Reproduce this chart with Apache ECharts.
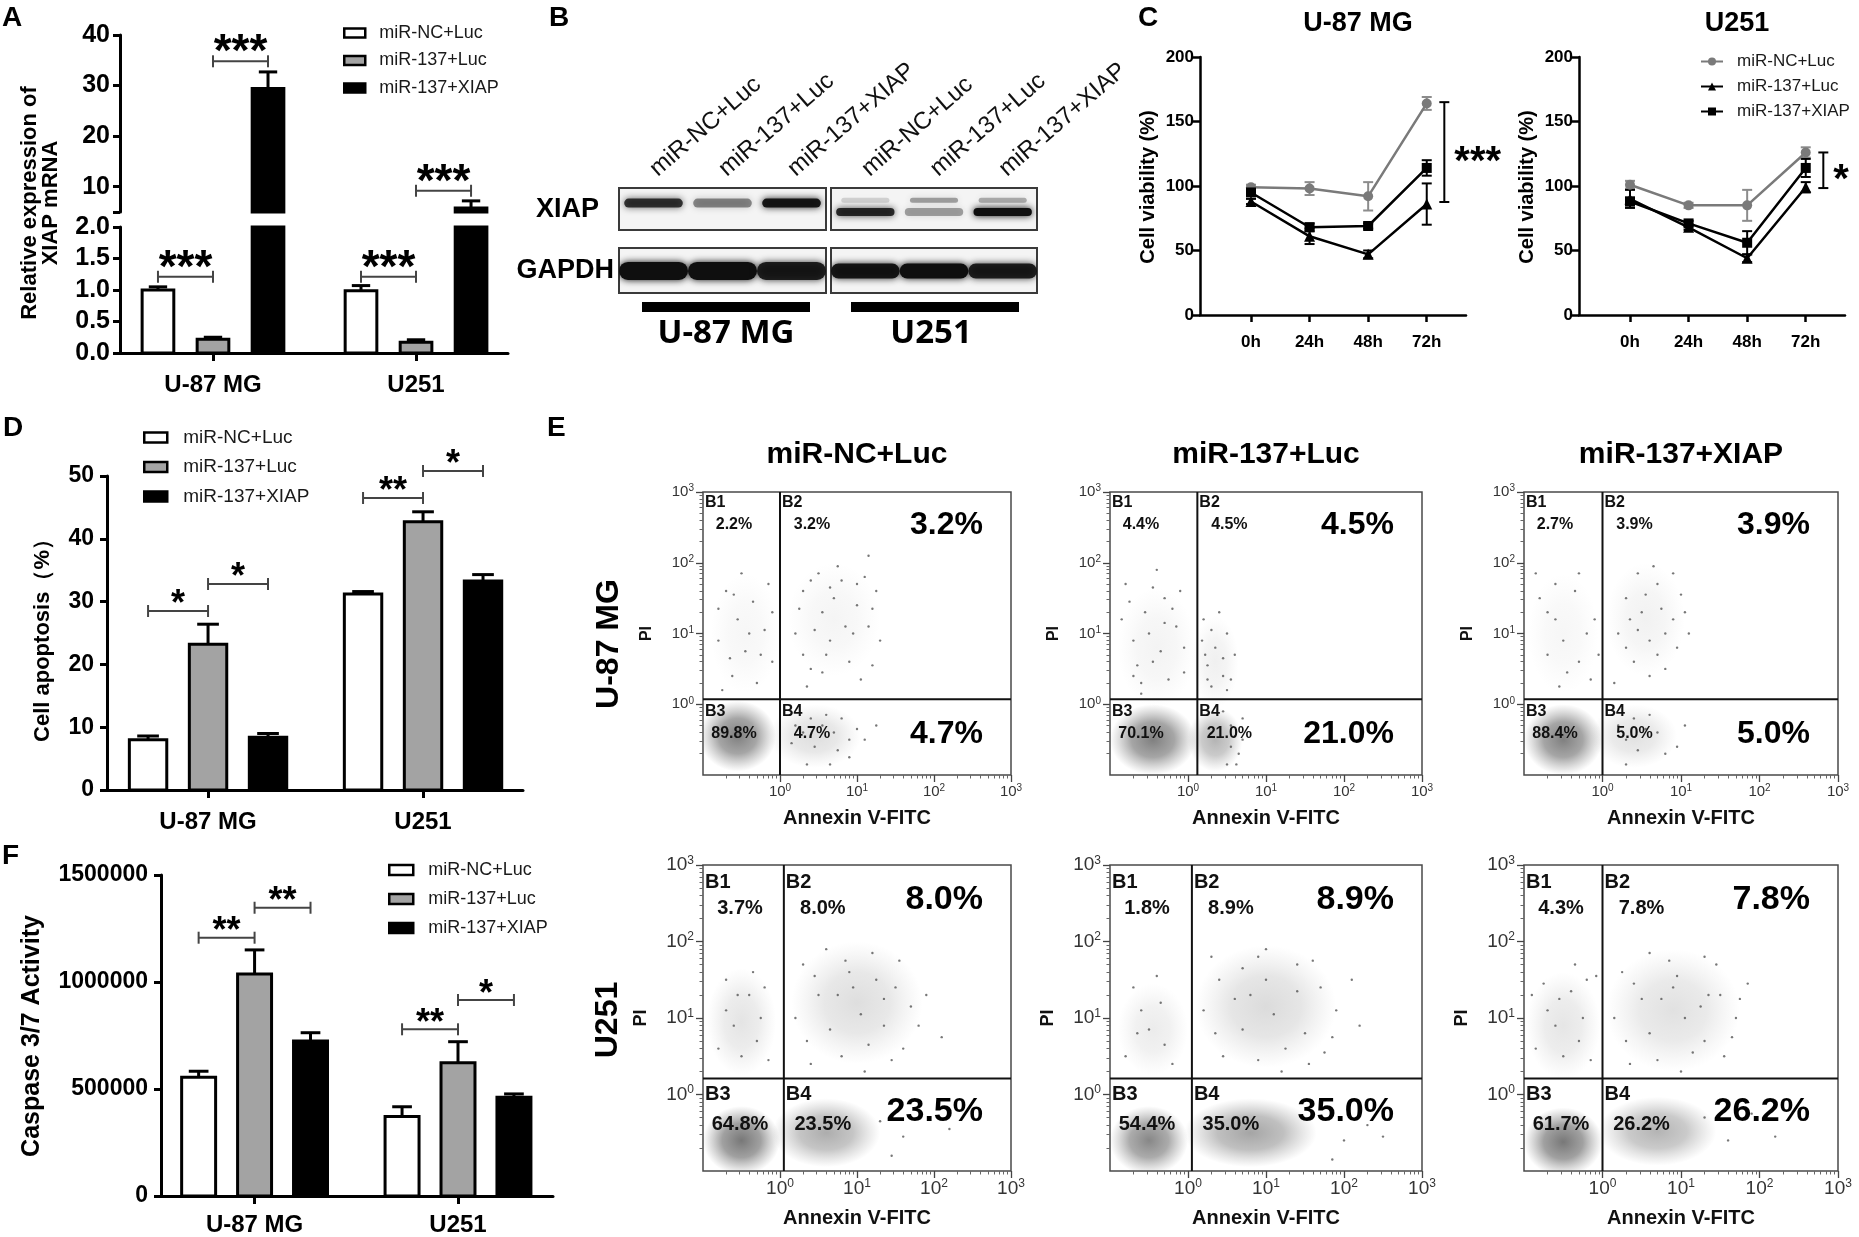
<!DOCTYPE html>
<html>
<head>
<meta charset="utf-8">
<title>miR-137 / XIAP</title>
<script src="https://cdn.jsdelivr.net/npm/echarts@6.0.0/dist/echarts.min.js"></script>
<style>
html, body { margin: 0; padding: 0; background: #fff; }
#main { width: 1859px; height: 1237px; }
</style>
</head>
<body>
<div id="main"></div>
<script>
// ---------- data ----------
var cells = ['U-87 MG', 'U251'];
var groups = ['miR-NC+Luc', 'miR-137+Luc', 'miR-137+XIAP'];
var times = ['0h', '24h', '48h', '72h'];

// A: relative XIAP mRNA
var aNc = [1.00, 0.99], aNcErr = [0.05, 0.08];
var aLuc = [0.22, 0.17], aLucErr = [0.03, 0.04];
var aXiap = [29.4, 5.8], aXiapErr = [3.3, 1.4];
// [cell, from group, to group, y, label]
var aSigTop = [[0, 1, 2, 34.8, '***'], [1, 1, 2, 9.2, '***']];
var aSigLow = [[0, 0, 1, 1.21, '***'], [1, 0, 1, 1.21, '***']];

// B: western blot band strength per lane
var bXiapU87 = [0.8, 0.45, 0.95];
var bXiapU251 = [0.85, 0.35, 1.0];
var bXiapU251Upper = [0.15, 0.35, 0.3];
var bGapdhU87 = [1.0, 1.0, 0.9];
var bGapdhU251 = [0.95, 1.0, 0.9];

// C: cell viability (%)
var cU87Nc = [99, 98, 92, 164], cU87NcErr = [2, 5, 11, 5];
var cU87Luc = [88, 61, 47, 86], cU87LucErr = [2, 6, 3, 16];
var cU87Xiap = [95, 68, 69, 114], cU87XiapErr = [2, 3, 2, 6];
var cU251Nc = [101, 85, 85, 126], cU251NcErr = [3, 2, 12, 4];
var cU251Luc = [90, 68, 44, 99], cU251LucErr = [7, 2, 3, 4];
var cU251Xiap = [88, 71, 56, 114], cU251XiapErr = [3, 2, 9, 7];
var cSigU87 = [87.6, 165], cSigU251 = [98.4, 126];

// D: cell apoptosis (%)
var dNc = [8.0, 31.2], dNcErr = [0.6, 0.4];
var dLuc = [23.2, 42.7], dLucErr = [3.2, 1.6];
var dXiap = [8.4, 33.3], dXiapErr = [0.6, 1.0];
var dSig = [[0, 0, 1, 28.5, '*'], [0, 1, 2, 32.8, '*'], [1, 0, 1, 46.5, '**'], [1, 1, 2, 50.8, '*']];

// F: caspase 3/7 activity
var fNc = [555000, 371000], fNcErr = [28000, 46000];
var fLuc = [1037000, 623000], fLucErr = [113000, 98000];
var fXiap = [724000, 461000], fXiapErr = [39000, 16000];
var fSig = [[0, 0, 1, 1207000, '**'], [0, 1, 2, 1347000, '**'], [1, 0, 1, 779000, '**'], [1, 1, 2, 916000, '*']];

// E: flow cytometry, log10 units. gate [x, y], quadrant % [B1, B2, B3, B4]
// clouds: [cx, cy, rx, ry, density]
var e1Gate = [0.0, 0.07], e1Pct = [2.2, 3.2, 89.8, 4.7];
var e1Clouds = [[-0.55, -0.45, 0.5, 0.5, 0.85], [0.45, -0.45, 0.6, 0.45, 0.22], [-0.45, 1.0, 0.45, 0.85, 0.06], [0.7, 1.2, 0.6, 0.8, 0.07]];
var e1Dots = [[-0.7, 1.6], [-0.55, 1.2], [-0.35, 1.45], [-0.8, 0.9], [-0.45, 0.75], [-0.2, 1.05], [-0.62, 0.4], [-0.3, 0.3], [-0.15, 1.7], [-0.75, 0.2], [-0.5, 1.85], [-0.1, 0.6],
  [-0.6, 1.55], [-0.4, 1.0], [-0.25, 0.7], [-0.65, 0.65], [-0.1, 1.3], [-0.8, 1.35],
  [0.3, 1.6], [0.55, 1.3], [0.8, 1.75], [1.0, 1.4], [0.65, 0.9], [1.15, 1.1], [0.4, 0.5], [0.9, 0.6], [1.25, 1.6], [0.2, 1.0], [0.75, 1.95], [1.05, 0.35], [0.5, 1.85], [1.3, 0.9], [0.35, 0.25], [1.1, 1.8], [0.6, 0.7],
  [0.25, 1.35], [0.45, 1.05], [0.7, 1.5], [0.95, 1.0], [1.2, 1.35], [0.55, 0.45], [0.85, 1.1], [1.0, 1.7], [0.3, 0.7], [0.65, 1.65], [1.2, 0.55], [0.4, 1.75],
  [0.2, -0.3], [0.45, -0.6], [0.7, -0.4], [0.9, -0.75], [1.1, -0.5], [0.35, -0.85], [0.6, -0.15], [1.25, -0.3], [0.15, -0.55], [0.8, -0.2], [1.15, 2.1],
  [0.3, -0.4], [0.55, -0.3], [0.75, -0.65], [1.0, -0.35], [0.4, -0.2], [0.65, -0.85], [0.9, -0.5]];
var e2Gate = [0.12, 0.07], e2Pct = [4.4, 4.5, 70.1, 21.0];
var e2Clouds = [[-0.45, -0.5, 0.55, 0.5, 0.85], [0.35, -0.5, 0.35, 0.45, 0.5], [-0.4, 0.8, 0.5, 0.85, 0.08], [0.35, 0.6, 0.3, 0.65, 0.1]];
var e2Dots = [[-0.8, 1.7], [-0.55, 1.3], [-0.3, 1.5], [-0.7, 0.9], [-0.45, 0.6], [-0.15, 1.1], [-0.6, 0.3], [-0.25, 0.35], [-0.05, 0.8], [-0.85, 1.2], [-0.4, 1.9], [-0.1, 1.6], [-0.65, 0.55],
  [-0.75, 1.45], [-0.5, 1.0], [-0.35, 0.75], [-0.2, 1.35], [-0.7, 0.4], [-0.45, 1.65], [-0.05, 0.45], [-0.3, 1.15], [-0.6, 0.15],
  [0.2, 1.2], [0.35, 0.8], [0.45, 0.4], [0.25, 0.55], [0.5, 1.0], [0.3, 0.25], [0.6, 0.7], [0.18, 0.9], [0.4, 1.3], [0.55, 0.35],
  [0.25, 0.35], [0.45, 0.65], [0.3, 1.05], [0.5, 0.2], [0.22, 0.7],
  [0.55, -0.3], [0.65, -0.7], [0.5, -0.85], [0.7, -0.5], [0.45, -0.1], [0.6, -0.45], [0.7, -0.2], [0.55, -0.6], [0.62, -0.85]];
var e3Gate = [0.0, 0.07], e3Pct = [2.7, 3.9, 88.4, 5.0];
var e3Clouds = [[-0.5, -0.5, 0.5, 0.5, 0.85], [0.4, -0.45, 0.55, 0.45, 0.2], [-0.5, 1.0, 0.45, 0.85, 0.06], [0.55, 1.2, 0.5, 0.8, 0.09]];
var e3Dots = [[-0.8, 1.5], [-0.6, 1.2], [-0.35, 1.6], [-0.7, 0.7], [-0.45, 0.45], [-0.2, 1.0], [-0.55, 0.25], [-0.15, 0.35], [-0.85, 1.85], [-0.3, 1.85], [-0.05, 0.7],
  [-0.7, 1.3], [-0.5, 0.9], [-0.3, 0.6], [-0.1, 1.2], [-0.6, 1.7],
  [0.3, 1.5], [0.5, 1.3], [0.7, 1.7], [0.9, 1.2], [0.6, 0.9], [0.4, 0.6], [0.8, 0.5], [0.2, 1.0], [1.0, 1.55], [0.65, 1.95], [0.45, 1.85], [0.95, 0.8], [0.15, 0.3], [0.75, 1.35],
  [0.35, 1.2], [0.55, 1.55], [0.8, 1.0], [1.05, 1.3], [0.3, 0.8], [0.6, 0.4], [0.9, 1.85], [0.45, 1.05], [0.7, 0.7], [1.1, 1.0],
  [0.2, -0.3], [0.45, -0.65], [0.7, -0.4], [0.95, -0.6], [0.3, -0.85], [0.6, -0.15], [1.05, -0.3], [0.3, -0.5], [0.55, -0.35], [0.8, -0.7], [0.4, -0.2]];
var e4Gate = [0.05, 0.21], e4Pct = [3.7, 8.0, 64.8, 23.5];
var e4Clouds = [[-0.5, -0.6, 0.5, 0.45, 0.9], [0.6, -0.5, 0.7, 0.45, 0.55], [1.0, 1.2, 0.85, 0.8, 0.22], [-0.5, 0.95, 0.45, 0.7, 0.18]];
var e4Dots = [[0.3, 1.7], [0.6, 1.9], [0.9, 1.6], [1.2, 1.85], [1.5, 1.4], [1.7, 1.15], [1.35, 0.9], [0.8, 0.5], [0.4, 0.4], [1.9, 1.3], [1.1, 0.3], [0.2, 1.0], [1.6, 0.6], [0.5, 1.3], [2.1, 0.75], [1.25, 1.5],
  [0.45, 1.55], [0.75, 1.3], [1.05, 1.05], [1.35, 1.25], [0.65, 0.85], [1.55, 1.75], [0.95, 1.4], [1.8, 0.9], [0.35, 0.7], [1.15, 0.65], [1.45, 0.45], [0.85, 1.75],
  [-0.7, 1.5], [-0.35, 1.6], [-0.8, 0.6], [-0.15, 0.45], [-0.55, 1.3], [-0.25, 1.0], [-0.6, 0.9], [-0.4, 1.3], [-0.7, 1.1], [-0.3, 0.7], [-0.5, 0.5], [-0.2, 1.4],
  [1.3, -0.35], [1.6, -0.55], [1.8, -0.2], [2.2, -0.45], [1.45, -0.8]];
var e5Gate = [0.05, 0.21], e5Pct = [1.8, 8.9, 54.4, 35.0];
var e5Clouds = [[-0.5, -0.6, 0.5, 0.45, 0.8], [0.8, -0.5, 0.85, 0.45, 0.6], [1.0, 1.15, 0.9, 0.8, 0.24], [-0.45, 0.85, 0.45, 0.6, 0.13]];
var e5Dots = [[0.3, 1.8], [0.7, 1.65], [1.0, 1.9], [1.4, 1.7], [1.7, 1.4], [1.9, 1.1], [1.5, 0.8], [0.9, 0.45], [0.45, 0.5], [2.1, 1.5], [1.2, 0.3], [0.2, 1.1], [1.75, 0.55], [0.6, 1.25], [2.2, 0.9],
  [0.4, 1.5], [0.8, 1.3], [1.1, 1.05], [1.4, 1.35], [0.7, 0.85], [1.6, 1.75], [1.0, 1.5], [1.85, 0.75], [0.35, 0.8], [1.25, 0.6], [1.55, 0.4], [0.9, 1.8],
  [-0.7, 1.4], [-0.4, 1.55], [-0.8, 0.5], [-0.2, 0.4], [-0.6, 1.1], [-0.5, 0.85], [-0.35, 1.2], [-0.65, 0.8], [-0.3, 0.65],
  [1.7, -0.3], [2.0, -0.6], [2.3, -0.4], [1.85, -0.85], [2.5, -0.55]];
var e6Gate = [0.0, 0.21], e6Pct = [4.3, 7.8, 61.7, 26.2];
var e6Clouds = [[-0.5, -0.62, 0.5, 0.45, 0.9], [0.7, -0.48, 0.75, 0.45, 0.5], [0.9, 1.1, 0.85, 0.8, 0.2], [-0.5, 0.9, 0.47, 0.7, 0.17]];
var e6Dots = [[0.25, 1.6], [0.6, 1.85], [0.95, 1.55], [1.3, 1.8], [1.5, 1.3], [1.7, 1.0], [1.3, 0.7], [0.7, 0.45], [0.35, 0.4], [1.85, 1.45], [1.0, 0.3], [0.15, 1.0], [1.55, 0.5], [0.5, 1.25], [1.25, 1.15],
  [0.4, 1.45], [0.75, 1.25], [1.05, 1.0], [1.35, 1.3], [0.6, 0.8], [1.45, 1.7], [0.9, 1.4], [1.65, 0.75], [0.3, 0.7], [1.15, 0.55], [0.85, 1.75], [1.75, 1.25],
  [-0.75, 1.45], [-0.35, 1.7], [-0.85, 0.6], [-0.15, 0.45], [-0.55, 1.25], [-0.25, 1.0], [-0.9, 1.3], [-0.08, 1.55],
  [-0.6, 0.9], [-0.4, 1.35], [-0.7, 1.1], [-0.3, 0.7], [-0.5, 0.5], [-0.2, 1.5],
  [1.3, -0.3], [1.6, -0.6], [1.9, -0.25], [2.2, -0.55]];

// ---------- helpers ----------
var FONT = '"Liberation Sans", Arial, Helvetica, sans-serif';
var fills = ['#ffffff', '#a3a3a3', '#000000'];
var grids = [], xAxes = [], yAxes = [], series = [], legends = [], graphics = [];

function pushAxis(arr, o) { arr.push(o); return arr.length - 1; }
function addGrid(r, extra) {
  var g = {left: r[0], top: r[1], width: r[2], height: r[3], show: false, containLabel: false, outerBoundsMode: 'none'};
  if (extra) for (var k in extra) g[k] = extra[k];
  grids.push(g);
  return grids.length - 1;
}
function ts(text, size, weight, align, valign, color, family) {
  align = align || 'center'; valign = valign || 'middle';
  return {text: text, fontSize: size, fontWeight: weight || 'bold', fontFamily: family || FONT,
    fill: color || '#000', textFill: color || '#000',
    align: align, verticalAlign: valign, textAlign: align, textVerticalAlign: valign};
}
function txt(x, y, s, size, opt) {
  opt = opt || {};
  graphics.push({type: 'text', x: x, y: y, rotation: opt.rot || 0, silent: true, z: 100,
    style: ts(s, size, opt.weight, opt.align, opt.valign, opt.color, opt.family)});
}

// ---------- bar panels (A, D, F) ----------
function catX(g, range, show, size, margin) {
  return pushAxis(xAxes, {
    gridIndex: g, type: 'value', min: range[0], max: range[1], show: show,
    axisLine: {show: true, onZero: false, lineStyle: {color: '#000', width: 3}},
    axisTick: {show: true, customValues: [0, 1], length: 8, lineStyle: {color: '#000', width: 3}},
    axisLabel: {show: true, customValues: [0, 1], formatter: function (v) { return cells[Math.round(v)]; },
      fontSize: size, fontWeight: 'bold', color: '#000', fontFamily: FONT, margin: margin},
    splitLine: {show: false}
  });
}
function valY(g, min, max, o) {
  var ax = {gridIndex: g, type: 'value', min: min, max: max,
    axisLine: {show: true, onZero: false, lineStyle: {color: '#000', width: 3}},
    axisTick: {show: true, length: 7, lineStyle: {color: '#000', width: 3}},
    axisLabel: {fontSize: o.size, fontWeight: 'bold', color: '#000', fontFamily: FONT, margin: o.margin},
    splitLine: {show: false}};
  if (o.interval) ax.interval = o.interval;
  if (o.ticks) ax.axisTick.customValues = o.ticks;
  if (o.labels) ax.axisLabel.customValues = o.labels;
  if (o.fmt) ax.axisLabel.formatter = o.fmt;
  return pushAxis(yAxes, ax);
}
function addBars(prefix, xi, yi, means, errs, bw, off, ymin, ymax) {
  means.forEach(function (m, s) {
    series.push({
      type: 'custom', name: prefix + groups[s], xAxisIndex: xi, yAxisIndex: yi, silent: true, z: 2,
      itemStyle: {color: fills[s]}, encode: {x: 0, y: 1},
      data: m.map(function (v, c) { return [c, v, errs[s][c]]; }),
      renderItem: function (params, api) {
        var x = api.value(0) + (s - 1) * off, v = api.value(1), e = api.value(2);
        if (v <= ymin) return null;
        var top = Math.min(v, ymax);
        var p1 = api.coord([x - bw / 2, top]), p2 = api.coord([x + bw / 2, ymin]);
        var kids = [{type: 'rect', shape: {x: p1[0], y: p1[1], width: p2[0] - p1[0], height: p2[1] - p1[1]},
          style: {fill: fills[s], stroke: '#000', lineWidth: 3}}];
        if (v + e <= ymax) {
          var t = api.coord([x, v + e]), b = api.coord([x, v]), cw = (p2[0] - p1[0]) * 0.58;
          kids.push({type: 'line', shape: {x1: t[0], y1: t[1], x2: b[0], y2: b[1]}, style: {stroke: '#000', lineWidth: 3}});
          kids.push({type: 'line', shape: {x1: t[0] - cw / 2, y1: t[1], x2: t[0] + cw / 2, y2: t[1]}, style: {stroke: '#000', lineWidth: 3}});
        }
        return {type: 'group', children: kids};
      }
    });
  });
}
function addSig(xi, yi, list, off, fs, lift) {
  series.push({
    type: 'custom', xAxisIndex: xi, yAxisIndex: yi, silent: true, z: 5, encode: {x: [0, 1], y: 2},
    data: list.map(function (s) { return [s[0] + (s[1] - 1) * off, s[0] + (s[2] - 1) * off, s[3]]; }),
    renderItem: function (params, api) {
      var lab = list[params.dataIndex][4];
      var p1 = api.coord([api.value(0), api.value(2)]), p2 = api.coord([api.value(1), api.value(2)]);
      var y = p1[1];
      return {type: 'group', children: [
        {type: 'line', shape: {x1: p1[0], y1: y, x2: p2[0], y2: y}, style: {stroke: '#444', lineWidth: 2}},
        {type: 'line', shape: {x1: p1[0], y1: y - 6, x2: p1[0], y2: y + 6}, style: {stroke: '#444', lineWidth: 2}},
        {type: 'line', shape: {x1: p2[0], y1: y - 6, x2: p2[0], y2: y + 6}, style: {stroke: '#444', lineWidth: 2}},
        {type: 'text', x: (p1[0] + p2[0]) / 2, y: y - lift + 0.27 * fs, style: ts(lab, fs, 'bold')}
      ]};
    }
  });
}
function barLegend(prefix, left, top, iw, ih, gap, fs, pad) {
  legends.push({
    show: true, orient: 'vertical', left: left, top: top, padding: 0, itemWidth: iw, itemHeight: ih, itemGap: gap,
    selectedMode: false,
    data: groups.map(function (g, i) {
      return {name: prefix + g, icon: 'rect', itemStyle: {color: fills[i], borderColor: '#000', borderWidth: 2.5}};
    }),
    formatter: function (n) { return n.split('|')[1]; },
    textStyle: {fontSize: fs, fontFamily: FONT, color: '#1a1a1a', padding: [0, 0, 0, pad], lineHeight: fs}
  });
}

// Panel A (broken y axis: two grids)
var aX = [-0.458, 1.453], aBw = 0.156, aOff = 0.271;
var gAu = addGrid([120, 35, 388, 177]);
var gAl = addGrid([120, 227, 388, 126]);
var xAu = catX(gAu, aX, false, 24, 20);
var yAu = valY(gAu, 5, 40, {size: 25, margin: 10, ticks: [5, 10, 20, 30, 40], labels: [10, 20, 30, 40]});
var xAl = catX(gAl, aX, true, 24, 20);
var yAl = valY(gAl, 0, 2, {size: 25, margin: 10, interval: 0.5, fmt: function (v) { return v.toFixed(1); }});
addBars('A|', xAu, yAu, [aNc, aLuc, aXiap], [aNcErr, aLucErr, aXiapErr], aBw, aOff, 5, 40);
addBars('A|', xAl, yAl, [aNc, aLuc, aXiap], [aNcErr, aLucErr, aXiapErr], aBw, aOff, 0, 2);
addSig(xAu, yAu, aSigTop, aOff, 46, 20);
addSig(xAl, yAl, aSigLow, aOff, 46, 20);
barLegend('A|', 343, 24, 21, 9, 9.5, 18, 9);

// Panel D
var dX = [-0.47, 1.465], dBw = 0.174, dOff = 0.279;
var gD = addGrid([107, 476, 416, 314]);
var xD = catX(gD, dX, true, 24, 20);
var yD = valY(gD, 0, 50, {size: 23, margin: 13, interval: 10});
addBars('D|', xD, yD, [dNc, dLuc, dXiap], [dNcErr, dLucErr, dXiapErr], dBw, dOff, 0, 50);
addSig(xD, yD, dSig, dOff, 36, 16);
barLegend('D|', 143, 428, 23, 10, 10.5, 19, 11);

// Panel F
var fX = [-0.46, 1.467], fBw = 0.167, fOff = 0.275;
var gF = addGrid([161, 875, 392, 321]);
var xF = catX(gF, fX, true, 24, 17);
var yF = valY(gF, 0, 1500000, {size: 23, margin: 13, interval: 500000, fmt: function (v) { return String(v); }});
addBars('F|', xF, yF, [fNc, fLuc, fXiap], [fNcErr, fLucErr, fXiapErr], fBw, fOff, 0, 1500000);
addSig(xF, yF, fSig, fOff, 36, 15);
barLegend('F|', 388, 861, 24, 10, 11, 18, 10);

// ---------- Panel C (line charts) ----------
var cX = [-0.87, 3.67];
var cGray = '#7a7a7a';
function addErr(xi, yi, vals, errs, color) {
  series.push({
    type: 'custom', xAxisIndex: xi, yAxisIndex: yi, silent: true, z: 1, encode: {x: 0, y: 1},
    data: vals.map(function (v, i) { return [i, v, errs[i]]; }),
    renderItem: function (params, api) {
      var x = api.value(0), v = api.value(1), e = api.value(2);
      var t = api.coord([x, v + e]), b = api.coord([x, v - e]);
      function st() { return {stroke: color, lineWidth: 2}; }
      return {type: 'group', children: [
        {type: 'line', shape: {x1: t[0], y1: t[1], x2: b[0], y2: b[1]}, style: st()},
        {type: 'line', shape: {x1: t[0] - 5, y1: t[1], x2: t[0] + 5, y2: t[1]}, style: st()},
        {type: 'line', shape: {x1: b[0] - 5, y1: b[1], x2: b[0] + 5, y2: b[1]}, style: st()}
      ]};
    }
  });
}
function addLine(xi, yi, vals, name, symbol, size, color) {
  series.push({
    type: 'line', name: 'C|' + name, xAxisIndex: xi, yAxisIndex: yi, silent: true, z: 3,
    data: vals.map(function (v, i) { return [i, v]; }),
    symbol: symbol, symbolSize: size, showSymbol: true,
    itemStyle: {color: color}, lineStyle: {color: color, width: 2.5}
  });
}
function cPanel(left, nc, ncE, luc, lucE, xiap, xiapE, sig, lab) {
  var g = addGrid([left, 57, 266, 258]);
  var xi = pushAxis(xAxes, {
    gridIndex: g, type: 'value', min: cX[0], max: cX[1],
    axisLine: {show: true, onZero: false, lineStyle: {color: '#000', width: 2.5}},
    axisTick: {show: true, customValues: [0, 1, 2, 3], length: 7, lineStyle: {color: '#000', width: 2.5}},
    axisLabel: {show: true, customValues: [0, 1, 2, 3], formatter: function (v) { return times[Math.round(v)]; },
      fontSize: 17, fontWeight: 'bold', color: '#000', fontFamily: FONT, margin: 19},
    splitLine: {show: false}
  });
  var yi = pushAxis(yAxes, {
    gridIndex: g, type: 'value', min: 0, max: 200, interval: 50,
    axisLine: {show: true, onZero: false, lineStyle: {color: '#000', width: 2.5}},
    axisTick: {show: true, length: 7, lineStyle: {color: '#000', width: 2.5}},
    axisLabel: {fontSize: 17, fontWeight: 'bold', color: '#000', fontFamily: FONT, margin: 6},
    splitLine: {show: false}
  });
  addErr(xi, yi, nc, ncE, '#8c8c8c');
  addErr(xi, yi, luc, lucE, '#000');
  addErr(xi, yi, xiap, xiapE, '#000');
  addLine(xi, yi, nc, groups[0], 'circle', 10, cGray);
  addLine(xi, yi, luc, groups[1], 'triangle', 11, '#000');
  addLine(xi, yi, xiap, groups[2], 'rect', 10, '#000');
  series.push({
    type: 'custom', xAxisIndex: xi, yAxisIndex: yi, silent: true, z: 5, encode: {x: 0, y: [1, 2]},
    data: [[3.3, sig[0], sig[1]]],
    renderItem: function (params, api) {
      var lo = api.coord([api.value(0), api.value(1)]), hi = api.coord([api.value(0), api.value(2)]);
      var x = lo[0], fs = 40;
      function st() { return {stroke: '#000', lineWidth: 2}; }
      return {type: 'group', children: [
        {type: 'line', shape: {x1: x, y1: lo[1], x2: x, y2: hi[1]}, style: st()},
        {type: 'line', shape: {x1: x - 5, y1: lo[1], x2: x + 5, y2: lo[1]}, style: st()},
        {type: 'line', shape: {x1: x - 5, y1: hi[1], x2: x + 5, y2: hi[1]}, style: st()},
        {type: 'text', x: x + 10, y: (lo[1] + hi[1]) / 2 + 0.27 * fs, style: ts(lab, fs, 'bold', 'left')}
      ]};
    }
  });
}
cPanel(1200, cU87Nc, cU87NcErr, cU87Luc, cU87LucErr, cU87Xiap, cU87XiapErr, cSigU87, '***');
cPanel(1579, cU251Nc, cU251NcErr, cU251Luc, cU251LucErr, cU251Xiap, cU251XiapErr, cSigU251, '*');
legends.push({
  show: true, orient: 'vertical', left: 1700, top: 53, padding: 0, itemWidth: 22, itemHeight: 10, itemGap: 8,
  selectedMode: false,
  data: groups.map(function (g) { return {name: 'C|' + g}; }),
  formatter: function (n) { return n.split('|')[1]; },
  textStyle: {fontSize: 17, fontFamily: FONT, color: '#1a1a1a', padding: [0, 0, 0, 9], lineHeight: 17}
});

// ---------- Panel B (blot) ----------
function blotGrid(rect, labels) {
  var g = addGrid(rect, {show: true, borderColor: '#3a3a3a', borderWidth: 2, backgroundColor: '#f4f4f4'});
  var xi = pushAxis(xAxes, {
    gridIndex: g, type: 'category', data: groups, position: 'top', show: labels,
    axisLine: {show: false}, axisTick: {show: false}, splitLine: {show: false},
    axisLabel: {interval: 0, rotate: 41, margin: 16, fontSize: 24, color: '#111', fontFamily: FONT}
  });
  var yi = pushAxis(yAxes, {gridIndex: g, type: 'value', min: 0, max: 1, show: false, splitLine: {show: false}});
  return [xi, yi];
}
function addBands(ax, vals, rowY, thick, wf) {
  series.push({
    type: 'custom', xAxisIndex: ax[0], yAxisIndex: ax[1], silent: true, z: 2, clip: true, encode: {x: 0, y: 1},
    data: vals.map(function (v, i) { return [i, v]; }),
    renderItem: function (params, api) {
      var c = api.coord([api.value(0), rowY]), a = api.value(1);
      var w = api.size([1, 0])[0] * wf;
      var col = 'rgba(15,15,15,' + a + ')';
      return {type: 'rect', shape: {x: c[0] - w / 2, y: c[1] - thick / 2, width: w, height: thick, r: thick / 2},
        style: {fill: col, shadowBlur: 7, shadowColor: col}};
    }
  });
}
var bx1 = blotGrid([619, 188, 207, 42], true);
var bx2 = blotGrid([831, 188, 206, 42], true);
var bg1 = blotGrid([619, 248, 207, 45], false);
var bg2 = blotGrid([831, 248, 206, 45], false);
addBands(bx1, bXiapU87, 0.64, 9, 0.85);
addBands(bx2, bXiapU251, 0.43, 8, 0.85);
addBands(bx2, bXiapU251Upper, 0.71, 5, 0.7);
addBands(bg1, bGapdhU87, 0.49, 18, 1.0);
addBands(bg2, bGapdhU251, 0.49, 15, 1.0);

// ---------- Panel E (flow cytometry) ----------
var minorTicks = [];
for (var dd = -1; dd < 3; dd++) for (var kk = 2; kk < 10; kk++) minorTicks.push(dd + Math.log10(kk));
var rowL = [
  {tf: 15, sf: 10, sp: 7, xm: 8, ym: 9, nf: 20, ng: 33, pg: 48, pf: 16, bf: 16, by: 11, px: 31, py: 33, px2: 32, b3y: 12, p3y: 34, bigF: 32, bigY: 33, bigY4: 35},
  {tf: 19, sf: 12, sp: 9, xm: 7, ym: 9, nf: 20, ng: 37, pg: 53, pf: 18, bf: 20, by: 17, px: 37, py: 43, px2: 39, b3y: 16, p3y: 46, bigF: 34, bigY: 35, bigY4: 33}
];
function supLabel(v) { return '{b|10}{s|' + Math.round(v) + '}'; }
function addFlow(rect, row, gate, pct, clouds, dots) {
  var L = rowL[row];
  var g = addGrid(rect, {show: true, borderColor: '#4a4a4a', borderWidth: 1.5, backgroundColor: '#fff'});
  var rich = {b: {fontSize: L.tf, fontFamily: FONT, color: '#333'},
    s: {fontSize: L.sf, fontFamily: FONT, color: '#333', padding: [0, 0, L.sp, 0]}};
  var xi = pushAxis(xAxes, {
    gridIndex: g, type: 'value', min: -1, max: 3, position: 'bottom',
    axisLine: {show: false, onZero: false},
    axisTick: {show: true, customValues: [0, 1, 2, 3], length: 7, lineStyle: {color: '#444', width: 1.3}},
    axisLabel: {show: true, customValues: [0, 1, 2, 3], formatter: supLabel, rich: rich, color: '#333', margin: L.xm},
    splitLine: {show: false},
    name: 'Annexin V-FITC', nameLocation: 'middle', nameGap: L.ng,
    nameTextStyle: {fontSize: L.nf, fontWeight: 'bold', color: '#111', fontFamily: FONT}
  });
  pushAxis(xAxes, {
    gridIndex: g, type: 'value', min: -1, max: 3, position: 'bottom',
    axisLine: {show: false, onZero: false},
    axisTick: {show: true, customValues: minorTicks, length: 3.5, lineStyle: {color: '#666', width: 1}},
    axisLabel: {show: false}, splitLine: {show: false}
  });
  var yi = pushAxis(yAxes, {
    gridIndex: g, type: 'value', min: -1, max: 3, position: 'left',
    axisLine: {show: false, onZero: false},
    axisTick: {show: true, customValues: [0, 1, 2, 3], length: 7, lineStyle: {color: '#444', width: 1.3}},
    axisLabel: {show: true, customValues: [0, 1, 2, 3], formatter: supLabel, rich: rich, color: '#333', margin: L.ym},
    splitLine: {show: false},
    name: 'PI', nameLocation: 'middle', nameGap: L.pg, nameRotate: 90,
    nameTextStyle: {fontSize: L.pf, fontWeight: 'bold', color: '#111', fontFamily: FONT}
  });
  pushAxis(yAxes, {
    gridIndex: g, type: 'value', min: -1, max: 3, position: 'left',
    axisLine: {show: false, onZero: false},
    axisTick: {show: true, customValues: minorTicks, length: 3.5, lineStyle: {color: '#666', width: 1}},
    axisLabel: {show: false}, splitLine: {show: false}
  });
  series.push({
    type: 'custom', xAxisIndex: xi, yAxisIndex: yi, silent: true, z: 1, clip: true, encode: {x: 0, y: 1},
    data: clouds,
    renderItem: function (params, api) {
      var c = api.coord([api.value(0), api.value(1)]);
      var e = api.coord([api.value(0) + api.value(2), api.value(1) + api.value(3)]);
      var rx = Math.abs(e[0] - c[0]), ry = Math.abs(c[1] - e[1]), a = api.value(4);
      return {type: 'circle', x: c[0], y: c[1], scaleY: ry / rx, shape: {cx: 0, cy: 0, r: rx},
        style: {fill: {type: 'radial', x: 0.5, y: 0.5, r: 0.5, colorStops: [
          {offset: 0, color: 'rgba(105,105,105,' + a + ')'},
          {offset: 0.5, color: 'rgba(115,115,115,' + (a * 0.75) + ')'},
          {offset: 1, color: 'rgba(140,140,140,0)'}]}}};
    }
  });
  series.push({
    type: 'scatter', xAxisIndex: xi, yAxisIndex: yi, silent: true, z: 2, data: dots,
    symbolSize: 2.4, itemStyle: {color: '#555'}
  });
  series.push({
    type: 'custom', xAxisIndex: xi, yAxisIndex: yi, silent: true, z: 3, encode: {x: 0, y: 1},
    data: [gate],
    renderItem: function (params, api) {
      var cs = params.coordSys, c = api.coord([api.value(0), api.value(1)]);
      return {type: 'group', children: [
        {type: 'line', shape: {x1: c[0], y1: cs.y, x2: c[0], y2: cs.y + cs.height}, style: {stroke: '#111', lineWidth: 2}},
        {type: 'line', shape: {x1: cs.x, y1: c[1], x2: cs.x + cs.width, y2: c[1]}, style: {stroke: '#111', lineWidth: 2}}
      ]};
    }
  });
  series.push({
    type: 'custom', xAxisIndex: xi, yAxisIndex: yi, silent: true, z: 6, encode: {x: 0, y: 1},
    data: [gate],
    renderItem: function (params, api) {
      var cs = params.coordSys, c = api.coord([api.value(0), api.value(1)]);
      var gx = c[0], gy = c[1], el = [];
      function t(x, y, s, fs, al) { el.push({type: 'text', x: x, y: y, style: ts(s, fs, 'bold', al, 'middle', '#111')}); }
      function p(v) { return v.toFixed(1) + '%'; }
      t(cs.x + 2, cs.y + L.by, 'B1', L.bf, 'left');
      t(cs.x + L.px, cs.y + L.py, p(pct[0]), L.bf, 'center');
      t(gx + 2, cs.y + L.by, 'B2', L.bf, 'left');
      t(gx + L.px2, cs.y + L.py, p(pct[1]), L.bf, 'center');
      t(cs.x + 2, gy + L.b3y, 'B3', L.bf, 'left');
      t(cs.x + L.px, gy + L.p3y, p(pct[2]), L.bf, 'center');
      t(gx + 2, gy + L.b3y, 'B4', L.bf, 'left');
      t(gx + L.px2, gy + L.p3y, p(pct[3]), L.bf, 'center');
      var rx = cs.x + cs.width - 28;
      el.push({type: 'text', x: rx, y: cs.y + L.bigY, style: ts(p(pct[1]), L.bigF, 'bold', 'right', 'middle', '#000')});
      el.push({type: 'text', x: rx, y: gy + L.bigY4, style: ts(p(pct[3]), L.bigF, 'bold', 'right', 'middle', '#000')});
      return {type: 'group', children: el};
    }
  });
}
addFlow([703, 492, 308, 283], 0, e1Gate, e1Pct, e1Clouds, e1Dots);
addFlow([1110, 492, 312, 283], 0, e2Gate, e2Pct, e2Clouds, e2Dots);
addFlow([1524, 492, 314, 283], 0, e3Gate, e3Pct, e3Clouds, e3Dots);
addFlow([703, 865, 308, 306], 1, e4Gate, e4Pct, e4Clouds, e4Dots);
addFlow([1110, 865, 312, 306], 1, e5Gate, e5Pct, e5Clouds, e5Dots);
addFlow([1524, 865, 314, 306], 1, e6Gate, e6Pct, e6Clouds, e6Dots);

// ---------- free text ----------
var R90 = Math.PI / 2;
txt(2, 18, 'A', 28, {align: 'left'});
txt(549, 18, 'B', 28, {align: 'left'});
txt(1138, 18, 'C', 28, {align: 'left'});
txt(3, 428, 'D', 28, {align: 'left'});
txt(547, 428, 'E', 28, {align: 'left'});
txt(2, 856, 'F', 28, {align: 'left'});

txt(30, 203, 'Relative expression of', 22, {rot: R90});
txt(51, 203, 'XIAP mRNA', 22, {rot: R90});
txt(43, 635, 'Cell apoptosis（%）', 22, {rot: R90});
txt(32, 1036, 'Caspase 3/7 Activity', 25, {rot: R90});
txt(1148, 187, 'Cell viability (%)', 20, {rot: R90});
txt(1527, 187, 'Cell viability (%)', 20, {rot: R90});
txt(1358, 24, 'U-87 MG', 27);
txt(1737, 24, 'U251', 27);

txt(599, 210, 'XIAP', 27, {align: 'right'});
txt(614, 271, 'GAPDH', 27, {align: 'right'});
graphics.push({type: 'rect', shape: {x: 642, y: 302, width: 168, height: 10}, style: {fill: '#000'}, silent: true});
graphics.push({type: 'rect', shape: {x: 851, y: 302, width: 168, height: 10}, style: {fill: '#000'}, silent: true});
txt(726, 334, 'U-87 MG', 33, {family: '"Open Sans", ' + FONT});
txt(931, 334, 'U251', 33, {family: '"Open Sans", ' + FONT});

txt(857, 455, 'miR-NC+Luc', 30);
txt(1266, 455, 'miR-137+Luc', 30);
txt(1681, 455, 'miR-137+XIAP', 30);
txt(609, 644, 'U-87 MG', 32, {rot: R90});
txt(608, 1020, 'U251', 32, {rot: R90});

var chart = echarts.init(document.getElementById('main'), null, {renderer: 'canvas'});
chart.setOption({
  animation: false,
  backgroundColor: '#fff',
  textStyle: {fontFamily: FONT},
  grid: grids,
  xAxis: xAxes,
  yAxis: yAxes,
  legend: legends,
  series: series,
  graphic: {elements: graphics}
});
</script>
</body>
</html>
